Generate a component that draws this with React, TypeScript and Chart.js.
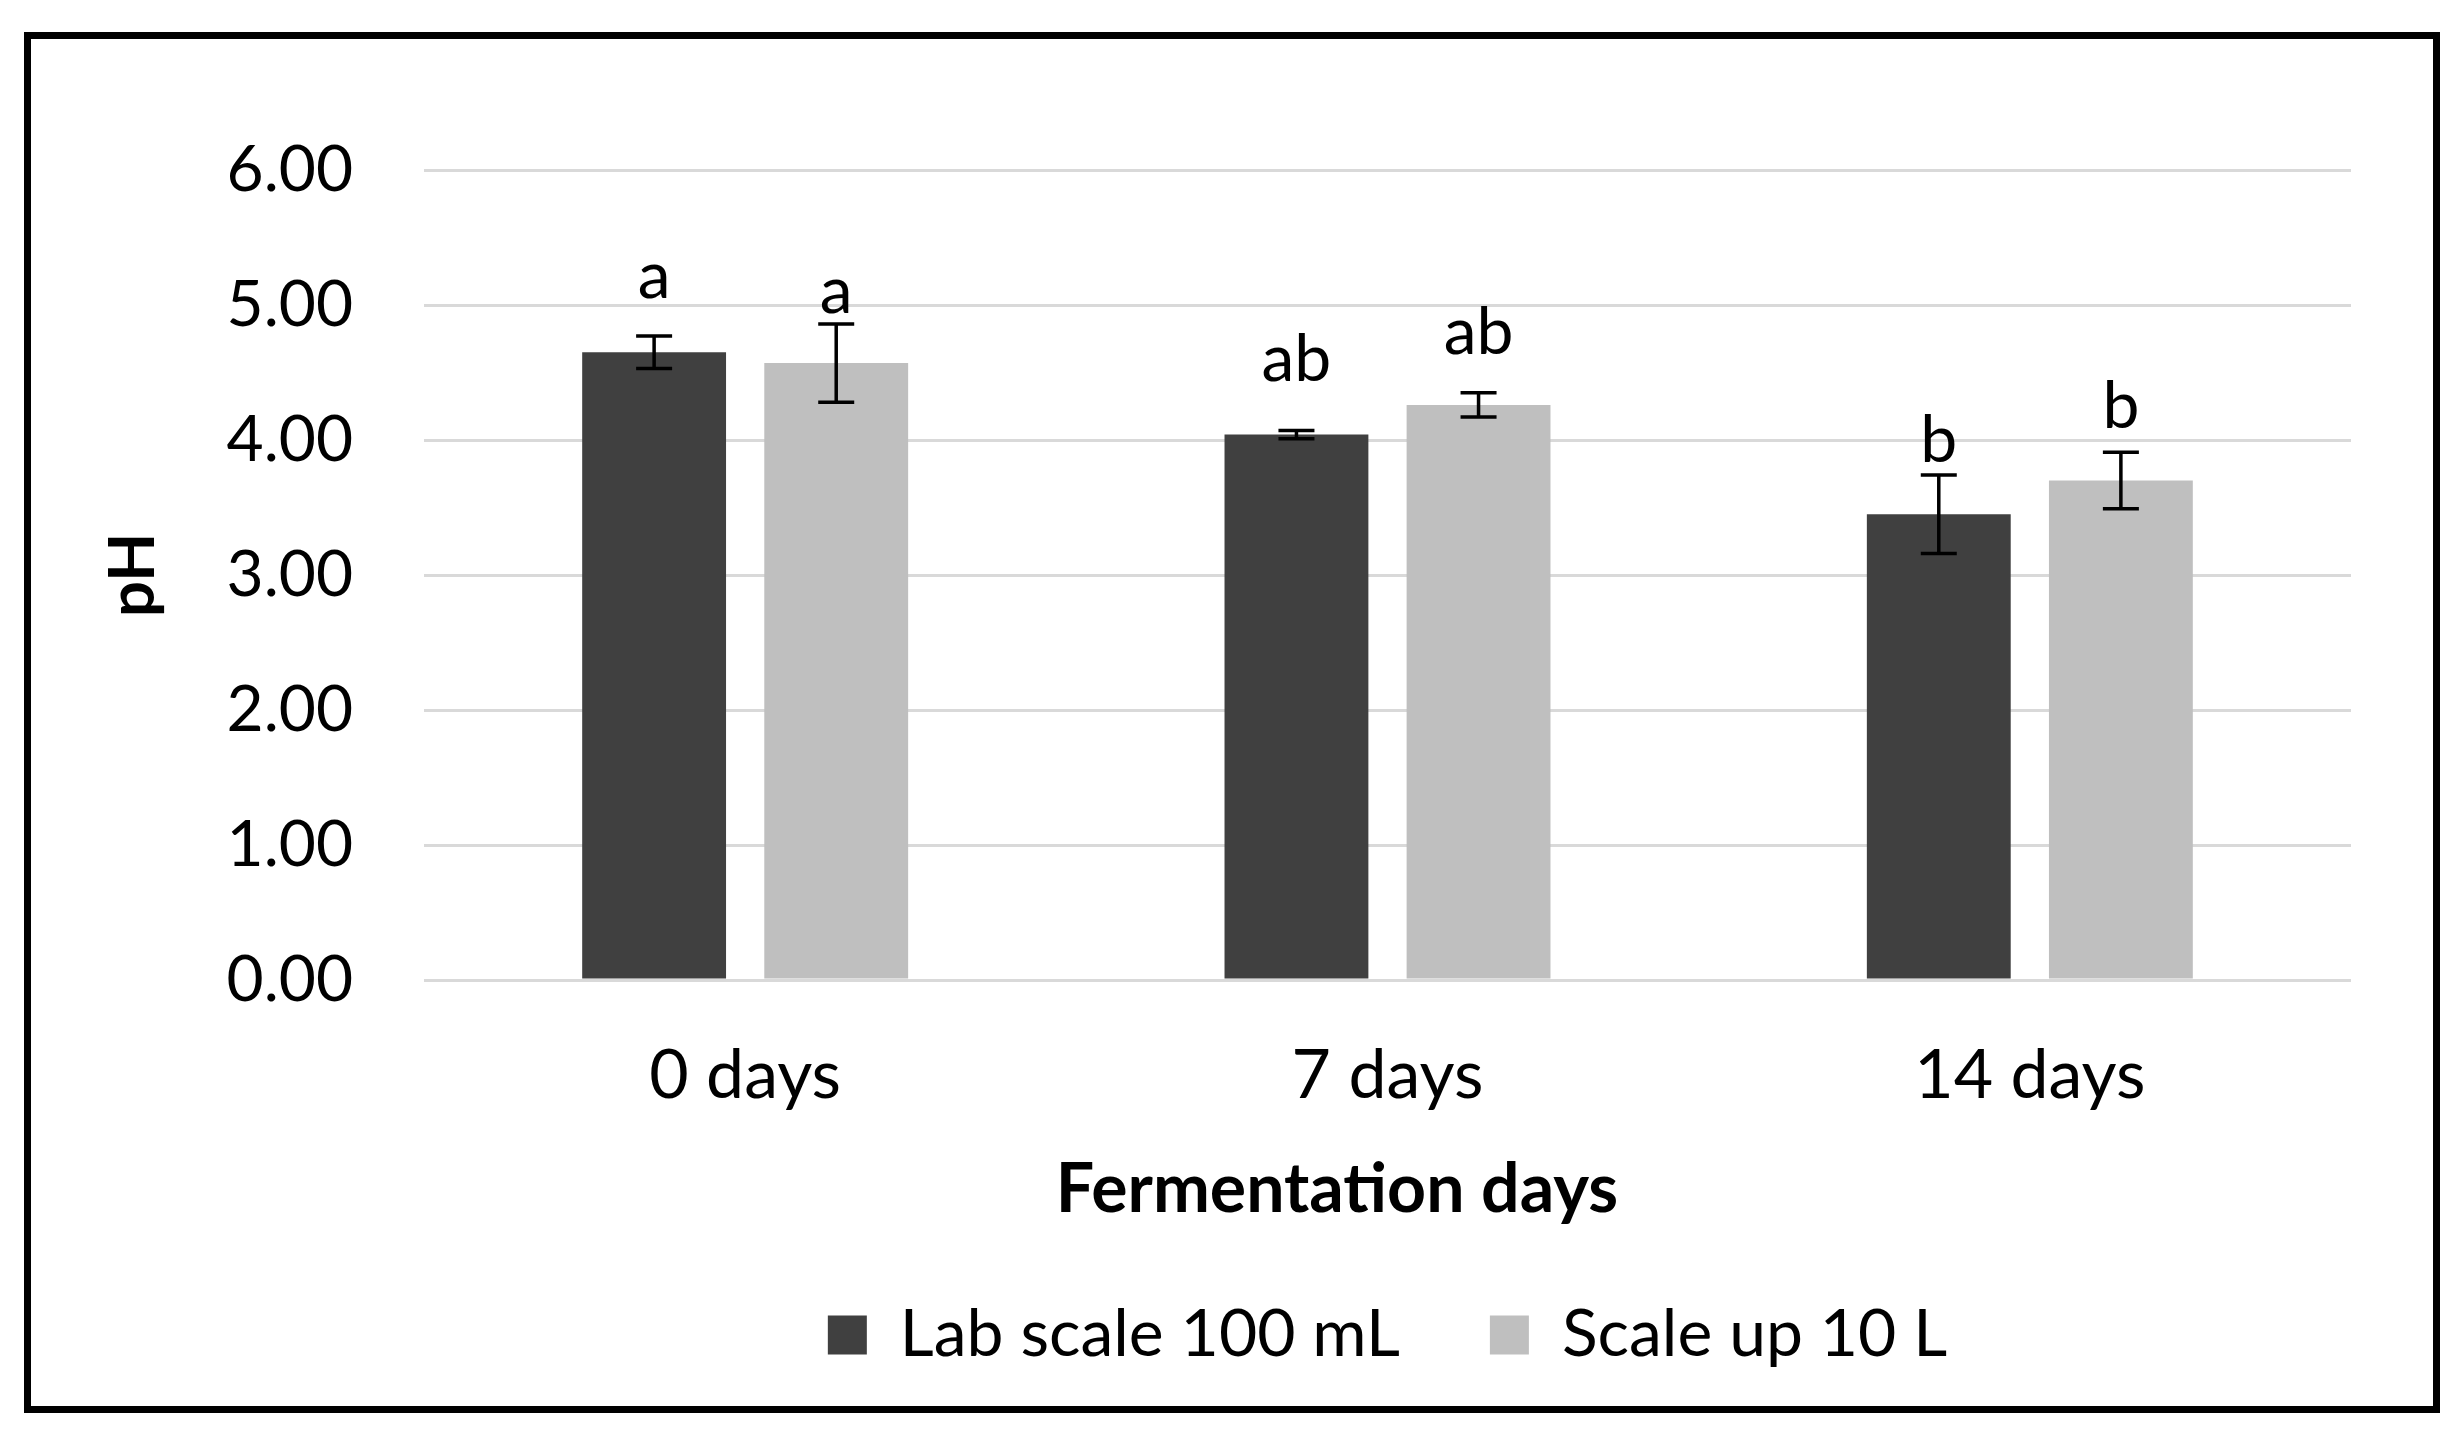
import React, { useEffect, useRef } from "react";
import { Chart, registerables } from "chart.js";

Chart.register(...registerables);

const categories = ["0 days", "7 days", "14 days"];
const seriesNames = ["Lab scale 100 mL", "Scale up 10 L"];
const labValues = [4.65, 4.04, 3.45];
const labErrors = [0.12, 0.03, 0.29];
const scaleValues = [4.57, 4.26, 3.7];
const scaleErrors = [0.29, 0.09, 0.21];
const labLetters = ["a", "ab", "b"];
const scaleLetters = ["a", "ab", "b"];
const labLetterBase = [5.05, 4.44, 3.84];
const scaleLetterBase = [4.94, 4.64, 4.09];
const yTicks = [0, 1, 2, 3, 4, 5, 6];
const xTitle = "Fermentation days";
const yTitle = "pH";

const FONT = "Lato, 'Open Sans', sans-serif";

const errorBarPlugin = {
  id: "errorBars",
  afterDatasetsDraw(chart: any) {
    const ctx = chart.ctx;
    const y = chart.scales.y;
    const errs = [labErrors, scaleErrors];
    const letters = [labLetters, scaleLetters];
    const bases = [labLetterBase, scaleLetterBase];
    ctx.save();
    chart.data.datasets.forEach((ds: any, di: number) => {
      const meta = chart.getDatasetMeta(di);
      meta.data.forEach((bar: any, i: number) => {
        const v = ds.data[i];
        const e = errs[di][i];
        const x = bar.x;
        const yTop = y.getPixelForValue(v + e);
        const yBot = y.getPixelForValue(v - e);
        ctx.strokeStyle = "#000";
        ctx.lineWidth = 3.5;
        ctx.beginPath();
        ctx.moveTo(x, yTop);
        ctx.lineTo(x, yBot);
        ctx.moveTo(x - 18, yTop);
        ctx.lineTo(x + 18, yTop);
        ctx.moveTo(x - 18, yBot);
        ctx.lineTo(x + 18, yBot);
        ctx.stroke();
        ctx.fillStyle = "#000";
        ctx.font = `66px ${FONT}`;
        ctx.textAlign = "center";
        ctx.textBaseline = "alphabetic";
        ctx.fillText(letters[di][i], x, y.getPixelForValue(bases[di][i]));
      });
    });
    ctx.restore();
  },
};

const framePlugin = {
  id: "frame",
  beforeDraw(chart: any) {
    const ctx = chart.ctx;
    ctx.save();
    ctx.fillStyle = "#fff";
    ctx.fillRect(0, 0, chart.width, chart.height);
    ctx.restore();
  },
  afterDraw(chart: any) {
    const ctx = chart.ctx;
    ctx.save();
    // x-axis title (offset centre as in the original)
    ctx.fillStyle = "#000";
    ctx.font = `bold 68px ${FONT}`;
    ctx.textAlign = "center";
    ctx.textBaseline = "middle";
    ctx.fillText(xTitle, 1337, 1190);
    ctx.strokeStyle = "#000";
    ctx.lineWidth = 7;
    ctx.strokeRect(27.5, 35.5, 2409, 1374);
    ctx.restore();
  },
};

export default function App() {
  const ref = useRef<HTMLCanvasElement | null>(null);
  useEffect(() => {
    if (!ref.current) return;
    const chart = new Chart(ref.current, {
      type: "bar",
      data: {
        labels: categories,
        datasets: [
          {
            label: seriesNames[0],
            data: labValues,
            backgroundColor: "#404040",
            categoryPercentage: 0.567,
            barPercentage: 0.79,
          },
          {
            label: seriesNames[1],
            data: scaleValues,
            backgroundColor: "#bfbfbf",
            categoryPercentage: 0.567,
            barPercentage: 0.79,
          },
        ],
      },
      options: {
        animation: false,
        responsive: false,
        devicePixelRatio: 1,
        layout: { padding: { left: 60, right: 111, top: 170, bottom: 72 } },
        plugins: {
          tooltip: { enabled: false },
          legend: {
            position: "bottom",
            fullSize: false,
            labels: {
              color: "#000",
              font: { family: FONT, size: 66 },
              boxWidth: 39,
              boxHeight: 39,
              padding: 90,
            },
          },
        },
        scales: {
          x: {
            grid: { display: false, drawTicks: false },
            border: { display: false },
            ticks: {
              color: "#000",
              font: { family: FONT, size: 68 },
              padding: 55,
            },
            afterFit(scale: any) {
              scale.height = 232;
            },
          },
          y: {
            min: 0,
            max: 6,
            afterBuildTicks(scale: any) {
              scale.ticks = yTicks.map((v) => ({ value: v }));
            },
            grid: { color: "#d9d9d9", lineWidth: 3, drawTicks: false },
            border: { display: false },
            ticks: {
              color: "#000",
              font: { family: FONT, size: 64 },
              padding: 71,
              callback: (v: any) => Number(v).toFixed(2),
            },
            title: {
              display: true,
              text: yTitle,
              color: "#000",
              font: { family: FONT, size: 64, weight: "bold" },
              padding: { top: 35, bottom: 0 },
            },
            afterFit(scale: any) {
              scale.width = 364;
            },
          },
        },
      },
      plugins: [errorBarPlugin, framePlugin],
    });
    return () => chart.destroy();
  }, []);
  return (
    <div style={{ position: "fixed", left: 0, top: 0, width: 2462, height: 1450, background: "#fff" }}>
      <canvas ref={ref} width={2462} height={1450} style={{ display: "block" }} />
    </div>
  );
}
